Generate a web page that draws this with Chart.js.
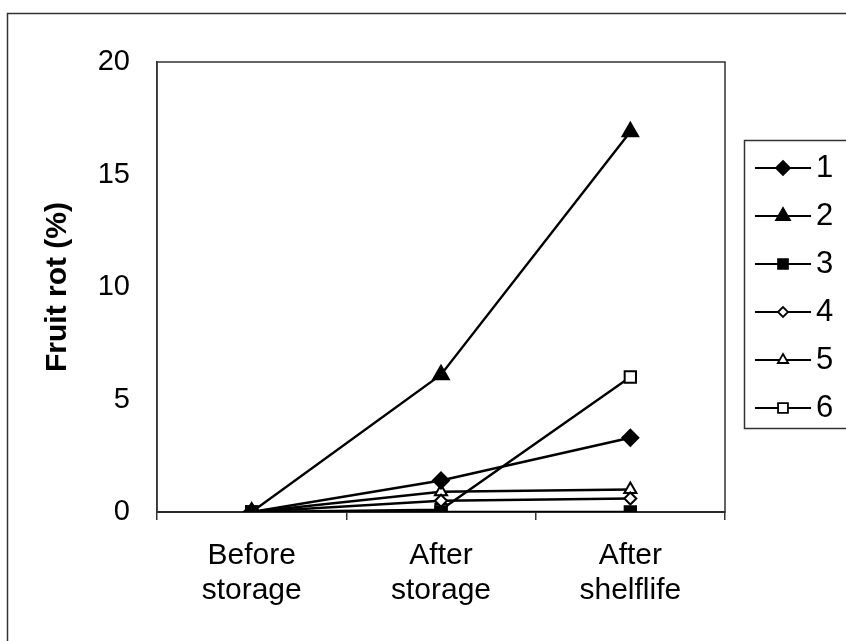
<!DOCTYPE html>
<html>
<head>
<meta charset="utf-8">
<script src="https://cdn.jsdelivr.net/npm/chart.js@4.4.0/dist/chart.umd.min.js"></script>
<style>
  html, body { margin: 0; padding: 0; background: #fff; }
  #wrap { position: relative; width: 846px; height: 641px; }
</style>
</head>
<body>
<div id="wrap"><canvas id="chart" width="846" height="641"></canvas></div>
<script>
const CATEGORIES = [['Before', 'storage'], ['After', 'storage'], ['After', 'shelflife']];
const Y_TICKS = [0, 5, 10, 15, 20];
const SERIES_NAMES = ['1', '2', '3', '4', '5', '6'];

const S1 = [0, 1.4, 3.3];
const S2 = [0, 6.1, 16.9];
const S3 = [0, 0, 0];
const S4 = [0, 0.5, 0.6];
const S5 = [0, 0.9, 1.0];
const S6 = [0, 0.1, 6.0];

const FONT = '"Liberation Sans", Arial, sans-serif';
const INK = '#000';

const STYLES = [
  { pointStyle: 'rectRot', radius: 8, fill: INK },
  { pointStyle: 'triangle', radius: 9, fill: INK },
  { pointStyle: 'rect', radius: 8, fill: INK },
  { pointStyle: 'rectRot', radius: 6, fill: '#fff' },
  { pointStyle: 'triangle', radius: 7, fill: '#fff' },
  { pointStyle: 'rect', radius: 8, fill: '#fff' },
];

const VALUES = [S1, S2, S3, S4, S5, S6];

const datasets = VALUES.map((vals, i) => ({
  label: SERIES_NAMES[i],
  data: vals,
  borderColor: INK,
  borderWidth: 2.4,
  backgroundColor: STYLES[i].fill,
  pointStyle: STYLES[i].pointStyle,
  pointRadius: STYLES[i].radius,
  pointBorderColor: INK,
  pointBorderWidth: 2,
  pointBackgroundColor: STYLES[i].fill,
  tension: 0,
}));

// outer frame + plot box
const framePlugin = {
  id: 'frame',
  beforeDraw(chart) {
    const ctx = chart.ctx;
    ctx.save();
    ctx.strokeStyle = '#333';
    ctx.lineWidth = 1.5;
    ctx.strokeRect(7.5, 13.5, 900, 700);
    ctx.restore();
  },
  beforeDatasetsDraw(chart) {
    const { ctx, chartArea: a } = chart;
    ctx.save();
    ctx.strokeStyle = '#333';
    ctx.lineWidth = 1.5;
    ctx.strokeRect(a.left, a.top, a.right - a.left, a.bottom - a.top);
    ctx.restore();
  },
};

// Excel style legend: line + marker + label, in a box
const legendPlugin = {
  id: 'boxLegend',
  afterDraw(chart) {
    const ctx = chart.ctx;
    const box = { x: 744.5, y: 140.5, w: 110, h: 288 };
    ctx.save();
    ctx.strokeStyle = '#333';
    ctx.lineWidth = 1.5;
    ctx.strokeRect(box.x, box.y, box.w, box.h);
    chart.data.datasets.forEach((ds, i) => {
      const y = 168 + i * 48;
      ctx.strokeStyle = INK;
      ctx.lineWidth = 2.2;
      ctx.beginPath();
      ctx.moveTo(755, y);
      ctx.lineTo(811, y);
      ctx.stroke();
      ctx.fillStyle = ds.pointBackgroundColor;
      ctx.strokeStyle = INK;
      ctx.lineWidth = 1.8;
      Chart.helpers.drawPoint(ctx, {
        pointStyle: ds.pointStyle,
        radius: ds.pointRadius - 1,
        borderWidth: 1.8,
        rotation: 0,
      }, 783, y);
      ctx.fillStyle = INK;
      ctx.font = '31px ' + FONT;
      ctx.textBaseline = 'middle';
      ctx.textAlign = 'left';
      ctx.fillText(ds.label, 816, y);
    });
    ctx.restore();
  },
};

new Chart(document.getElementById('chart'), {
  type: 'line',
  data: { labels: CATEGORIES, datasets },
  options: {
    responsive: false,
    animation: false,
    layout: { padding: { left: 0, top: 62, right: 121, bottom: 0 } },
    plugins: {
      legend: { display: false },
      tooltip: { enabled: false },
    },
    scales: {
      x: {
        offset: true,
        grid: { offset: true, drawOnChartArea: false, drawTicks: true, tickLength: 8, color: '#333', lineWidth: 1.5 },
        border: { display: true, color: '#111', width: 2 },
        ticks: { color: INK, font: { family: FONT, size: 30, lineHeight: 1.17 }, padding: 18, maxRotation: 0, autoSkip: false },
        afterFit: (s) => { s.height = 641 - 512; },
      },
      y: {
        min: 0,
        max: 20,
        afterBuildTicks: (s) => { s.ticks = Y_TICKS.map((v) => ({ value: v })); },
        grid: { display: false, drawOnChartArea: false, drawTicks: false },
        border: { display: true, color: '#333', width: 1.5 },
        ticks: { color: INK, font: { family: FONT, size: 29 }, padding: 27 },
        title: {
          display: true,
          text: 'Fruit rot (%)',
          color: INK,
          font: { family: FONT, size: 30, weight: 'bold', lineHeight: 1.2 },
          padding: { top: 40, bottom: 0 },
        },
        afterFit: (s) => { s.width = 157; },
      },
    },
  },
  plugins: [framePlugin, legendPlugin],
});
</script>
</body>
</html>
